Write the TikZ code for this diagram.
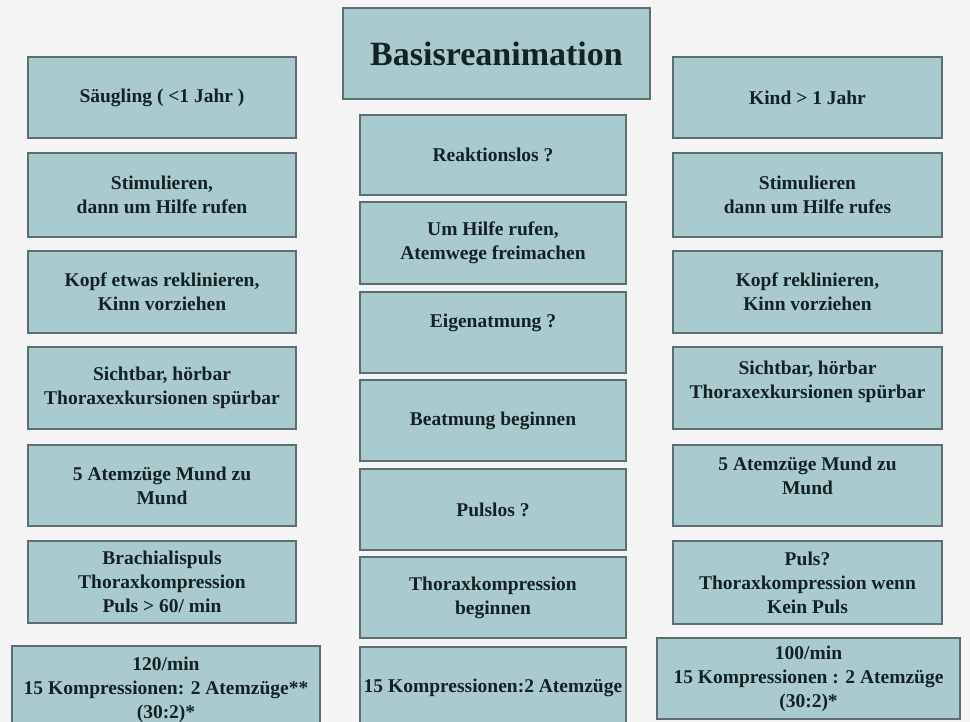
\documentclass[tikz,border=0pt]{standalone}
\usepackage{fontspec}
\setmainfont{Liberation Serif}
\usepackage{xcolor}
\usepackage{tikz}

\definecolor{boxfill}{HTML}{A9CBCF}
\definecolor{boxline}{HTML}{5E6D6F}
\definecolor{ink}{HTML}{152224}
\definecolor{paper}{HTML}{F3F4F3}
% empty box that only adds depth, pushes text up
\newcommand{\lift}[1]{\raisebox{-#1}{}}

\begin{document}
\begin{tikzpicture}[x=1pt,y=-1pt]
\tikzstyle{cell}=[draw=boxline, line width=1.8pt, fill=boxfill, text=ink, align=center, inner sep=2pt, font=\bfseries\fontsize{19.5}{24}\selectfont]
\tikzstyle{left col}=[cell, minimum width=268, minimum height=82]
\tikzstyle{mid col}=[cell, minimum width=266, minimum height=81]
\tikzstyle{right col}=[cell, minimum width=269, minimum height=82]
\fill [paper] (0,0) rectangle (970,722);
\useasboundingbox (0,0) rectangle (970,722);
% title
\node [cell, minimum width=307, minimum height=91, font=\bfseries\fontsize{34}{40}\selectfont] (title) at (496.5,53.5) {Basisreanimation};
% Saeugling
\node [left col, minimum height=81] (s1) at (162,97.5) {Säugling ( <1 Jahr )};
\node [left col, minimum height=84] (s2) at (162,195) {Stimulieren,\\dann um Hilfe rufen};
\node [left col] (s3) at (162,292) {Kopf etwas reklinieren,\\Kinn vorziehen};
\node [left col] (s4) at (162,388) {Sichtbar, hörbar\\Thoraxexkursionen spürbar};
\node [left col, minimum height=81] (s5) at (162,485.5) {5 Atemzüge Mund zu\\Mund};
\node [left col] (s6) at (162,582) {Brachialispuls\\Thoraxkompression\\Puls > 60/ min};
\node [cell, minimum width=308, minimum height=88] (s7) at (166,690) {120/min\\15 Kompressionen: 2 Atemzüge**\\(30:2)*};
% middle
\node [mid col, minimum height=80] (m1) at (493,155) {Reaktionslos ?};
\node [mid col, minimum height=82] (m2) at (493,243) {Um Hilfe rufen,\\Atemwege freimachen};
\node [mid col] (m3) at (493,332.5) {Eigenatmung ?\lift{24pt}};
\node [mid col] (m4) at (493,420.5) {Beatmung beginnen};
\node [mid col] (m5) at (493,509.5) {Pulslos ?};
\node [mid col] (m6) at (493,597.5) {Thoraxkompression\\beginnen};
\node [mid col] (m7) at (493,687.5) {15 Kompressionen:2 Atemzüge};
% Kind
\node [right col, minimum height=81] (k1) at (807.5,97.5) {Kind > 1 Jahr};
\node [right col, minimum height=84] (k2) at (807.5,195) {Stimulieren\\dann um  Hilfe rufes};
\node [right col] (k3) at (807.5,292) {Kopf reklinieren,\\Kinn vorziehen};
\node [right col] (k4) at (807.5,388) {Sichtbar, hörbar\\Thoraxexkursionen spürbar\lift{16pt}};
\node [right col, minimum height=81] (k5) at (807.5,485.5) {5 Atemzüge Mund zu\\Mund\lift{20pt}};
\node [right col, minimum height=83] (k6) at (807.5,582.5) {Puls?\\Thoraxkompression wenn\\Kein Puls};
\node [cell, minimum width=303, minimum height=81] (k7) at (808.5,678.5) {100/min\\15 Kompressionen : 2 Atemzüge\\(30:2)*};
\end{tikzpicture}
\end{document}
